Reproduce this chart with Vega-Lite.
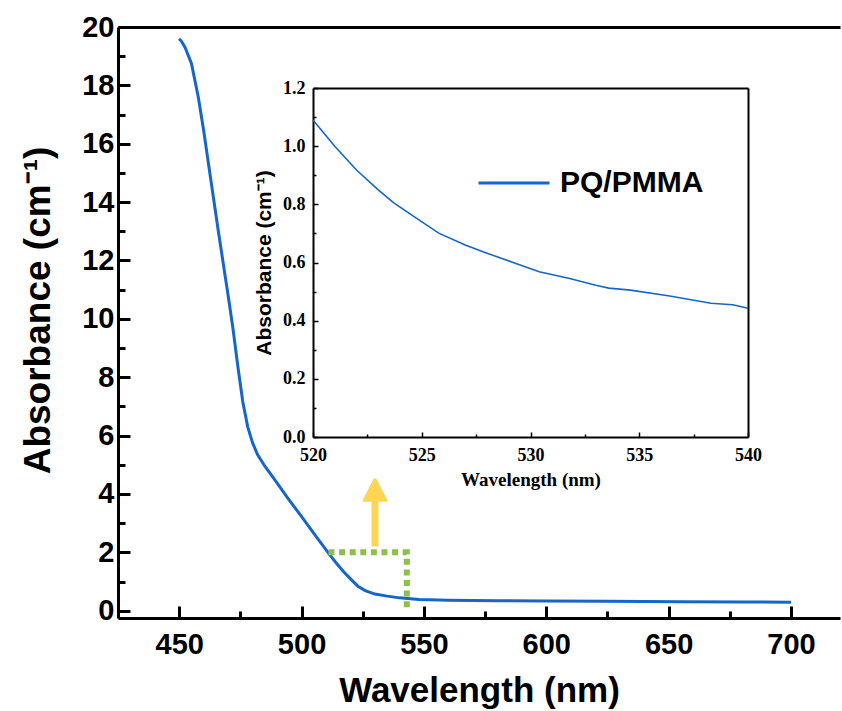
{
  "$schema": "https://vega.github.io/schema/vega-lite/v6.json",
  "width": 722,
  "height": 591,
  "autosize": "none",
  "padding": {"left": 118, "top": 27, "right": 2, "bottom": 93},
  "background": "white",
  "config": {
    "view": {"stroke": null},
    "axis": {"grid": false, "labelColor": "black", "titleColor": "black", "domainColor": "black", "tickColor": "black", "labelFlush": false, "labelOverlap": false}
  },
  "datasets": {
    "main": [
      {"wl": 450, "abs": 19.6}, {"wl": 451, "abs": 19.5}, {"wl": 452.4, "abs": 19.3}, {"wl": 455, "abs": 18.75},
      {"wl": 457.8, "abs": 17.6}, {"wl": 460, "abs": 16.45}, {"wl": 462, "abs": 15.3}, {"wl": 464, "abs": 14.15},
      {"wl": 466, "abs": 13.0}, {"wl": 468, "abs": 11.9}, {"wl": 470, "abs": 10.8}, {"wl": 472, "abs": 9.65},
      {"wl": 474, "abs": 8.35}, {"wl": 476, "abs": 7.15}, {"wl": 478, "abs": 6.3}, {"wl": 480, "abs": 5.75},
      {"wl": 482, "abs": 5.35}, {"wl": 485, "abs": 4.95}, {"wl": 488.5, "abs": 4.55}, {"wl": 494, "abs": 3.9},
      {"wl": 499.5, "abs": 3.28}, {"wl": 505, "abs": 2.65}, {"wl": 511, "abs": 1.97}, {"wl": 514, "abs": 1.65},
      {"wl": 517, "abs": 1.35}, {"wl": 520, "abs": 1.09}, {"wl": 523, "abs": 0.84}, {"wl": 526, "abs": 0.69},
      {"wl": 530, "abs": 0.57}, {"wl": 535, "abs": 0.5}, {"wl": 540, "abs": 0.44}, {"wl": 548, "abs": 0.38},
      {"wl": 560, "abs": 0.36}, {"wl": 580, "abs": 0.34}, {"wl": 600, "abs": 0.33}, {"wl": 625, "abs": 0.32},
      {"wl": 655, "abs": 0.31}, {"wl": 680, "abs": 0.3}, {"wl": 700, "abs": 0.29}
    ],
    "inset": [
      {"wl": 520, "abs": 1.09, "series": "PQ/PMMA"}, {"wl": 521, "abs": 1.0, "series": "PQ/PMMA"},
      {"wl": 522, "abs": 0.918, "series": "PQ/PMMA"}, {"wl": 523, "abs": 0.85, "series": "PQ/PMMA"},
      {"wl": 523.7, "abs": 0.806, "series": "PQ/PMMA"}, {"wl": 524.8, "abs": 0.75, "series": "PQ/PMMA"},
      {"wl": 525.8, "abs": 0.70, "series": "PQ/PMMA"}, {"wl": 527, "abs": 0.66, "series": "PQ/PMMA"},
      {"wl": 528, "abs": 0.632, "series": "PQ/PMMA"}, {"wl": 529.2, "abs": 0.60, "series": "PQ/PMMA"},
      {"wl": 530.4, "abs": 0.568, "series": "PQ/PMMA"}, {"wl": 531.8, "abs": 0.545, "series": "PQ/PMMA"},
      {"wl": 533, "abs": 0.522, "series": "PQ/PMMA"}, {"wl": 533.6, "abs": 0.512, "series": "PQ/PMMA"},
      {"wl": 534.6, "abs": 0.505, "series": "PQ/PMMA"}, {"wl": 536.4, "abs": 0.485, "series": "PQ/PMMA"},
      {"wl": 538.3, "abs": 0.46, "series": "PQ/PMMA"}, {"wl": 539.3, "abs": 0.455, "series": "PQ/PMMA"},
      {"wl": 540, "abs": 0.443, "series": "PQ/PMMA"}
    ],
    "zoombox": [
      {"wl": 511, "abs": 2, "o": 0}, {"wl": 543, "abs": 2, "o": 1}, {"wl": 543, "abs": 0.05, "o": 2}
    ],
    "arrow": [
      {"wl": 530, "abs": 2.2, "abs2": 3.85, "head": 4.12}
    ]
  },
  "resolve": {
    "scale": {"x": "independent", "y": "independent"},
    "axis": {"x": "independent", "y": "independent"}
  },
  "layer": [
    {
      "data": {"name": "main"},
      "mark": {"type": "line", "color": "#1566C8", "strokeWidth": 3},
      "encoding": {
        "x": {
          "field": "wl", "type": "quantitative",
          "scale": {"domain": [425, 720], "nice": false, "zero": false},
          "axis": {
            "orient": "bottom",
            "values": [450, 475, 500, 525, 550, 575, 600, 625, 650, 675, 700],
            "labelExpr": "datum.value % 50 === 0 ? datum.label : ''",
            "tickSize": {"condition": {"test": "datum.value % 50 === 0", "value": -12}, "value": -7},
            "tickWidth": 3, "domainWidth": 3,
            "labelFont": "Liberation Sans", "labelFontSize": 29, "labelFontWeight": "bold", "labelPadding": 24,
            "title": "Wavelength (nm)", "titleFont": "Liberation Sans", "titleFontSize": 35, "titleFontWeight": "bold", "titlePadding": 9
          }
        },
        "y": {
          "field": "abs", "type": "quantitative",
          "scale": {"domain": [-0.25, 20], "nice": false, "zero": false},
          "axis": {
            "orient": "left",
            "values": [0, 1, 2, 3, 4, 5, 6, 7, 8, 9, 10, 11, 12, 13, 14, 15, 16, 17, 18, 19, 20],
            "labelExpr": "datum.value % 2 === 0 ? datum.label : ''",
            "tickSize": {"condition": {"test": "datum.value % 2 === 0", "value": -12}, "value": -7},
            "tickWidth": 3, "domainWidth": 3,
            "labelFont": "Liberation Sans", "labelFontSize": 29, "labelFontWeight": "bold", "labelPadding": 16,
            "title": "Absorbance (cm⁻¹)", "titleFont": "Liberation Sans", "titleFontSize": 37, "titleFontWeight": "bold", "titlePadding": 24, "titleY": 283
          }
        }
      }
    },
    {
      "data": {"name": "main"},
      "mark": {"type": "line", "opacity": 0},
      "encoding": {
        "x": {
          "field": "wl", "type": "quantitative",
          "scale": {"domain": [425, 720], "nice": false, "zero": false},
          "axis": {"orient": "top", "ticks": false, "labels": false, "domainWidth": 3, "title": null}
        },
        "y": {
          "field": "abs", "type": "quantitative",
          "scale": {"domain": [-0.25, 20], "nice": false, "zero": false},
          "axis": null
        }
      }
    },
    {
      "data": {"name": "zoombox"},
      "mark": {"type": "line", "color": "#8DC04A", "strokeWidth": 6, "strokeDash": [6, 4.6], "strokeCap": "butt"},
      "encoding": {
        "x": {"field": "wl", "type": "quantitative", "scale": {"domain": [425, 720], "nice": false, "zero": false}, "axis": null},
        "y": {"field": "abs", "type": "quantitative", "scale": {"domain": [-0.25, 20], "nice": false, "zero": false}, "axis": null},
        "order": {"field": "o"}
      }
    },
    {
      "data": {"name": "arrow"},
      "mark": {"type": "rule", "color": "#FFD653", "strokeWidth": 7},
      "encoding": {
        "x": {"field": "wl", "type": "quantitative", "scale": {"domain": [425, 720], "nice": false, "zero": false}, "axis": null},
        "y": {"field": "abs", "type": "quantitative", "scale": {"domain": [-0.25, 20], "nice": false, "zero": false}, "axis": null},
        "y2": {"field": "abs2"}
      }
    },
    {
      "data": {"name": "arrow"},
      "mark": {"type": "point", "shape": "M0,-1L1,0.9L-1,0.9Z", "filled": true, "color": "#FFD653", "stroke": "#FFD653", "strokeWidth": 3, "strokeJoin": "round", "size": 484, "opacity": 1},
      "encoding": {
        "x": {"field": "wl", "type": "quantitative", "scale": {"domain": [425, 720], "nice": false, "zero": false}, "axis": null},
        "y": {"field": "head", "type": "quantitative", "scale": {"domain": [-0.25, 20], "nice": false, "zero": false}, "axis": null}
      }
    },
    {
      "data": {"name": "inset"},
      "mark": {"type": "line", "strokeWidth": 1.6},
      "encoding": {
        "x": {
          "field": "wl", "type": "quantitative",
          "scale": {"domain": [520, 540], "range": [195, 630], "nice": false, "zero": false},
          "axis": {
            "orient": "bottom", "offset": -181,
            "values": [520, 522.5, 525, 527.5, 530, 532.5, 535, 537.5, 540],
            "labelExpr": "datum.value % 5 === 0 ? datum.label : ''",
            "tickSize": {"condition": {"test": "datum.value % 5 === 0", "value": -5}, "value": -3},
            "tickWidth": 1.5, "domainWidth": 2,
            "labelFont": "Liberation Serif", "labelFontSize": 18, "labelFontWeight": "bold", "labelPadding": 14,
            "title": "Wavelength (nm)", "titleFont": "Liberation Serif", "titleFontSize": 19, "titleFontWeight": "bold", "titlePadding": 4
          }
        },
        "y": {
          "field": "abs", "type": "quantitative",
          "scale": {"domain": [0, 1.2], "range": [410, 61], "nice": false, "zero": false},
          "axis": {
            "orient": "left", "offset": -195,
            "values": [0, 0.1, 0.2, 0.3, 0.4, 0.5, 0.6, 0.7, 0.8, 0.9, 1.0, 1.1, 1.2],
            "format": ".1f",
            "labelExpr": "round(datum.value * 10) % 2 === 0 ? datum.label : ''",
            "tickSize": {"condition": {"test": "round(datum.value * 10) % 2 === 0", "value": -5}, "value": -3},
            "tickWidth": 1.5, "domainWidth": 2,
            "labelFont": "Liberation Serif", "labelFontSize": 18, "labelFontWeight": "bold", "labelPadding": 13,
            "title": "Absorbance (cm⁻¹)", "titleFont": "Liberation Sans", "titleFontSize": 21, "titleFontWeight": "bold", "titlePadding": 8
          }
        },
        "color": {
          "field": "series", "type": "nominal",
          "scale": {"domain": ["PQ/PMMA"], "range": ["#1566C8"]},
          "legend": {
            "orient": "none", "legendX": 359, "legendY": 119, "title": null,
            "symbolType": "stroke", "symbolSize": 5041, "symbolStrokeWidth": 3,
            "labelFont": "Liberation Sans", "labelFontSize": 30, "labelFontWeight": "bold", "labelColor": "black", "labelOffset": 9
          }
        }
      }
    },
    {
      "data": {"name": "inset"},
      "mark": {"type": "line", "opacity": 0},
      "encoding": {
        "x": {
          "field": "wl", "type": "quantitative",
          "scale": {"domain": [520, 540], "range": [195, 630], "nice": false, "zero": false},
          "axis": {"orient": "top", "offset": -61, "ticks": false, "labels": false, "domainWidth": 2, "title": null}
        },
        "y": {
          "field": "abs", "type": "quantitative",
          "scale": {"domain": [0, 1.2], "range": [410, 61], "nice": false, "zero": false},
          "axis": {"orient": "right", "offset": -92, "ticks": false, "labels": false, "domainWidth": 2, "title": null}
        }
      }
    }
  ]
}
